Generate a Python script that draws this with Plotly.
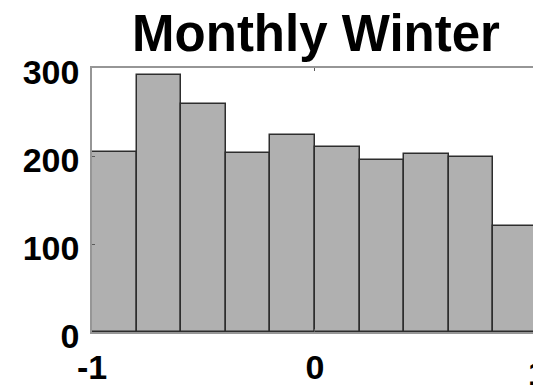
import plotly.graph_objects as go

# Histogram of monthly winter values: 10 bins of width 0.2 over [-1, 1]
bin_edges = [-1.0, -0.8, -0.6, -0.4, -0.2, 0.0, 0.2, 0.4, 0.6, 0.8, 1.0]
counts = [205, 292, 259, 203, 224, 210, 196, 202, 199, 120]
x_ticks = [-1, 0, 1]
y_ticks = [0, 100, 200, 300]
title_text = "Monthly Winter"

centers = [(a + b) / 2 for a, b in zip(bin_edges[:-1], bin_edges[1:])]
widths = [b - a for a, b in zip(bin_edges[:-1], bin_edges[1:])]

FONT = "Liberation Sans, Arial, Helvetica, sans-serif"
x_range = [-1, 0.978]

fig = go.Figure()
fig.add_trace(go.Bar(
    x=centers,
    y=counts,
    width=widths,
    marker=dict(color="rgb(176,176,176)",
                line=dict(color="rgb(45,45,45)", width=1.5)),
    hoverinfo="skip",
))

fig.update_layout(
    width=533,
    height=385,
    margin=dict(l=92, r=0, t=68, b=53, autoexpand=False),
    paper_bgcolor="white",
    plot_bgcolor="white",
    showlegend=False,
    bargap=0,
    font=dict(family=FONT, color="black"),
    title=dict(
        text="<b>%s</b>" % title_text,
        font=dict(size=51, family=FONT, color="black"),
        x=0.508, xref="paper", xanchor="center",
        y=1, yref="paper", yanchor="bottom",
        pad=dict(b=17),
    ),
    xaxis=dict(
        range=x_range,
        tickvals=x_ticks,
        ticktext=["<b>%g</b>" % v for v in x_ticks],
        tickfont=dict(size=34, family=FONT, color="black"),
        ticks="inside",
        ticklen=3,
        tickcolor="rgb(90,90,90)",
        ticklabelstandoff=4,
        showline=True,
        linecolor="rgb(150,150,150)",
        linewidth=1.5,
        mirror="ticks",
        showgrid=False,
        zeroline=False,
        automargin=False,
    ),
    yaxis=dict(
        range=[0, 300],
        tickvals=y_ticks,
        ticktext=["<b>%g</b>" % v for v in y_ticks],
        tickfont=dict(size=34, family=FONT, color="black"),
        ticks="inside",
        ticklen=3,
        tickcolor="rgb(90,90,90)",
        ticklabelstandoff=4,
        ticklabelshift=4,
        showline=True,
        linecolor="rgb(150,150,150)",
        linewidth=1.5,
        showgrid=False,
        zeroline=False,
        automargin=False,
    ),
)

# The last x tick lies just beyond the visible axis range; place its label in
# paper units so its left sliver still shows at the page edge
last_tick = x_ticks[-1]
paper_x = (last_tick - x_range[0]) / (x_range[1] - x_range[0])
fig.add_annotation(
    x=paper_x, y=0, xref="paper", yref="paper",
    text="<b>%g</b>" % last_tick, showarrow=False,
    font=dict(size=34, family=FONT, color="black"),
    xanchor="center", yanchor="top", yshift=-20,
)

fig.write_html("out.html")
